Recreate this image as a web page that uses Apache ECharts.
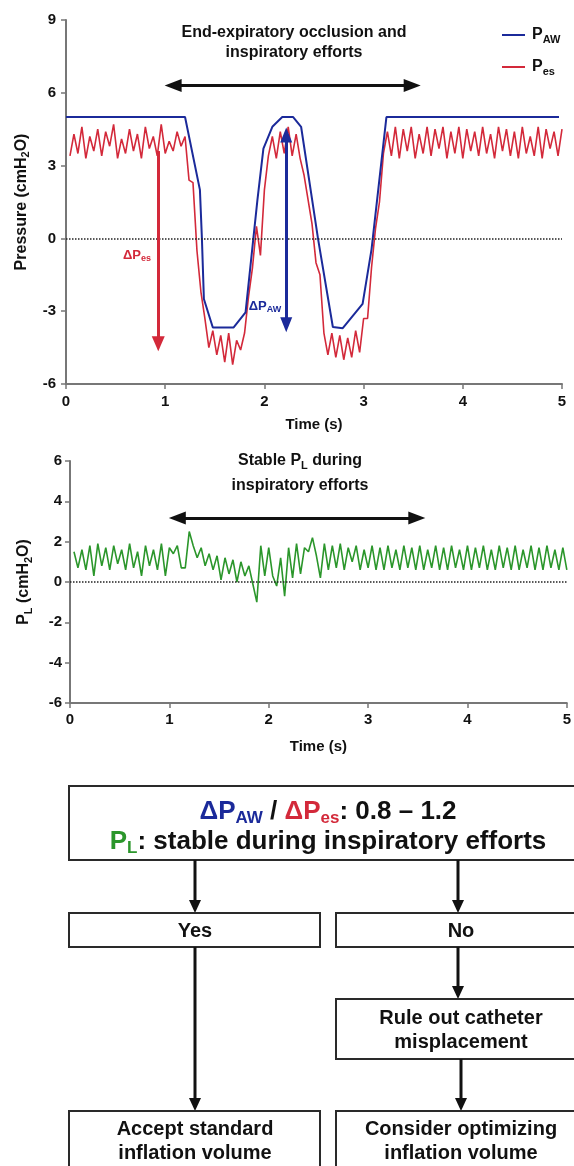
<!DOCTYPE html>
<html><head><meta charset="utf-8">
<script src="https://cdn.jsdelivr.net/npm/echarts@6/dist/echarts.min.js"></script>
<style>html,body{margin:0;padding:0;background:#fff}#c{width:574px;height:1166px}</style>
</head><body><div id="c"></div>
<script>
// ---------- data ----------
const xTicks = [0, 1, 2, 3, 4, 5];
const pressureTicks = [-6, -3, 0, 3, 6, 9];
const plTicks = [-6, -4, -2, 0, 2, 4, 6];
const sampleStart = 0.04, sampleStep = 0.04;   // sampling of Pes and PL traces (s)

const pawTime   = [0, 1.2, 1.35, 1.37, 1.39, 1.48, 1.69, 1.81, 1.93, 1.99, 2.08, 2.18, 2.29, 2.37, 2.54, 2.69, 2.79, 2.99, 3.08, 3.23, 4.97];
const pawValues = [5, 5,   2.0,  0.0, -2.5, -3.67, -3.67, -3.05, 1.6, 3.7, 4.6, 5.0, 5.0, 4.6, 0.0, -3.65, -3.7, -2.7, -0.45, 5.0, 5.0];

const pesValues = [
  3.4,4.3,3.5,4.6,3.3,4.2,3.6,4.5,3.4,4.4, 3.8,4.7,3.3,4.1,3.5,4.5,3.6,4.3,3.3,4.6, 3.7,4.2,3.4,4.7,3.5,4.0,3.6,4.4,3.8,
  4.2,2.4,2.3,-0.5,-2.2,-3.3,-4.5,-3.8,-4.8,-4.0,
  -5.1,-3.9,-5.2,-4.2,-4.6,-3.9,-2.4,-1.2,0.5,-0.7,
  2.0,3.4,4.2,3.3,4.4,3.5,4.6,3.4,4.3,3.3,
  2.6,1.6,0.6,-1.0,-1.5,-3.9,-4.8,-3.9,-4.9,-4.0,
  -5.0,-4.1,-4.9,-3.8,-4.7,-3.3,-3.3,-1.2,0.4,1.5,
  3.5,4.4,
  3.4,4.6,3.3,4.5,3.6,4.6,3.3,4.3,3.5,4.6, 3.4,4.5,3.7,4.6,3.3,4.4,3.5,4.6,3.3,4.5,
  3.6,4.4,3.4,4.6,3.5,4.3,3.3,4.6,3.6,4.5, 3.4,4.4,3.3,4.6,3.5,4.2,3.4,4.6,3.3,4.5, 3.7,4.4,3.4,4.5
];

const plValues = [
  1.5,0.7,1.6,0.6,1.8,0.3,1.9,0.8,1.7,0.6, 1.8,0.9,1.6,0.6,1.9,0.7,1.5,0.3,1.8,0.8, 1.6,0.6,1.9,0.3,1.7,1.4,1.8,0.7,0.7,
  2.5,1.8,1.2,1.7,0.8,1.4,0.6,1.3,0.1,1.2, 0.4,1.1,0.0,1.0,0.3,0.8,-0.1,-1.0,1.8,0.3,
  1.7,0.3,-0.2,1.2,-0.7,1.7,0.2,1.9,0.4,1.7, 1.5,2.2,1.3,0.2,
  1.9,0.6,1.8,0.7,1.9,0.6,1.7,1.0,1.8,0.6, 1.6,0.7,1.8,0.6,1.7,0.6,1.8,0.7,1.6,0.6,
  1.8,0.7,1.7,0.6,1.8,0.6,1.6,0.7,1.8,0.6, 1.7,0.6,1.8,0.7,1.6,0.6,1.8,0.6,1.7,0.7,
  1.8,0.6,1.6,0.6,1.8,0.7,1.7,0.6,1.8,0.6, 1.6,0.7,1.8,0.6,1.7,0.6,1.8,0.7,1.6,0.6, 1.7,0.6
];

// annotation arrows (data units, at the centres of the arrow heads)
const occlusionArrow = { from: 1.08, to: 3.49, level: 6.3 };
const dPesArrow = { t: 0.93, top: 3.6, bottom: -4.34 };
const dPawArrow = { t: 2.22, top: 4.26, bottom: -3.56 };
const stableArrow = { from: 1.08, to: 3.49, level: 3.17 };

// ---------- build ----------
const FONT = '"Liberation Sans", Arial, Helvetica, sans-serif';
const BLUE = '#1b2a9a', RED = '#d3293a', GREEN = '#2b962b', AXIS = '#777777';
const pawData = pawTime.map((t, i) => [t, pawValues[i]]);
const pesData = pesValues.map((v, i) => [+(sampleStart + i * sampleStep).toFixed(3), v]);
const plData = plValues.map((v, i) => [+(sampleStart + i * sampleStep).toFixed(3), v]);

function xAxisCfg(gridIndex, margin, gap) {
  return {
    type: 'value', gridIndex, min: xTicks[0], max: xTicks[xTicks.length - 1], interval: 1,
    name: 'Time (s)', nameLocation: 'middle', nameGap: gap,
    nameTextStyle: { fontFamily: FONT, fontWeight: 'bold', fontSize: 15, color: '#111' },
    axisLine: { show: true, onZero: false, lineStyle: { color: AXIS, width: 2 } },
    axisTick: { show: true, length: 5, lineStyle: { color: AXIS, width: 1.5 } },
    axisLabel: { fontFamily: FONT, fontWeight: 'bold', fontSize: 15, color: '#111', margin },
    splitLine: { show: false }
  };
}
function yAxisCfg(gridIndex, ticks, interval, nameRich, gap, margin) {
  return {
    type: 'value', gridIndex, min: ticks[0], max: ticks[ticks.length - 1], interval,
    name: nameRich, nameLocation: 'middle', nameGap: gap, nameRotate: 90,
    nameTextStyle: {
      fontFamily: FONT, fontWeight: 'bold', fontSize: 16, color: '#111',
      rich: {
        m: { fontFamily: FONT, fontWeight: 'bold', fontSize: 16, color: '#111' },
        s: { fontFamily: FONT, fontWeight: 'bold', fontSize: 11, color: '#111', padding: [9, 0, 0, 0] }
      }
    },
    axisLine: { show: true, onZero: false, lineStyle: { color: AXIS, width: 2 } },
    axisTick: { show: true, length: 5, lineStyle: { color: AXIS, width: 1.5 } },
    axisLabel: { fontFamily: FONT, fontWeight: 'bold', fontSize: 15, color: '#111', margin },
    splitLine: { show: false }
  };
}
function arrowSeries(xi, yi, color, width, a, b, syms, size) {
  return {
    type: 'line', xAxisIndex: xi, yAxisIndex: yi, data: [], silent: true,
    markLine: {
      silent: true, animation: false, symbol: syms, symbolSize: size,
      label: { show: false },
      lineStyle: { color, width, type: 'solid' },
      emphasis: { disabled: true },
      data: [[{ coord: a }, { coord: b }]]
    }
  };
}
const zeroLine = {
  silent: true, animation: false, symbol: 'none', label: { show: false },
  lineStyle: { color: '#222', width: 1.5, type: 'dotted' },
  emphasis: { disabled: true },
  data: [{ yAxis: 0 }]
};

const txt = (x, y, text, rich, extra) => ({
  type: 'text', x, y, silent: true,
  style: Object.assign({
    text, rich, align: 'center', verticalAlign: 'middle',
    fontFamily: FONT, fontWeight: 'bold', fontSize: 16, fill: '#111'
  }, extra || {})
});
const box = (x, y, w, h) => ({
  type: 'rect', silent: true, shape: { x, y, width: w, height: h },
  style: { fill: '#fff', stroke: '#2a2a2a', lineWidth: 2 }
});
const arrowDown = (x, y1, y2) => ([
  { type: 'line', silent: true, shape: { x1: x, y1, x2: x, y2: y2 - 10 }, style: { stroke: '#111', lineWidth: 3 } },
  { type: 'polygon', silent: true, shape: { points: [[x - 6, y2 - 13], [x + 6, y2 - 13], [x, y2]] }, style: { fill: '#111' } }
]);

const subRich = (col, big, small, pad) => ({
  m: { fontFamily: FONT, fontWeight: 'bold', fontSize: big, fill: col },
  s: { fontFamily: FONT, fontWeight: 'bold', fontSize: small, fill: col, padding: [pad, 0, 0, 0] }
});

const FS = 26, FSS = 17, FPAD = 13;
const flowRich = {
  b: { fontFamily: FONT, fontWeight: 'bold', fontSize: FS, fill: BLUE },
  bs: { fontFamily: FONT, fontWeight: 'bold', fontSize: FSS, fill: BLUE, padding: [FPAD, 0, 0, 0] },
  r: { fontFamily: FONT, fontWeight: 'bold', fontSize: FS, fill: RED },
  rs: { fontFamily: FONT, fontWeight: 'bold', fontSize: FSS, fill: RED, padding: [FPAD, 0, 0, 0] },
  g: { fontFamily: FONT, fontWeight: 'bold', fontSize: FS, fill: GREEN },
  gs: { fontFamily: FONT, fontWeight: 'bold', fontSize: FSS, fill: GREEN, padding: [FPAD, 0, 0, 0] },
  k: { fontFamily: FONT, fontWeight: 'bold', fontSize: FS, fill: '#111' }
};

const graphics = [
  txt(294, 43, 'End-expiratory occlusion and\ninspiratory efforts', null, { lineHeight: 20 }),
  txt(137, 255, '{m|ΔP}{s|es}', subRich(RED, 13, 9, 7)),
  txt(265, 306, '{m|ΔP}{s|AW}', subRich(BLUE, 13, 9, 7)),
  txt(300, 461, '{k|Stable P}{s|L}{k| during}', {
    k: { fontFamily: FONT, fontWeight: 'bold', fontSize: 16, fill: '#111' },
    s: { fontFamily: FONT, fontWeight: 'bold', fontSize: 11, fill: '#111', padding: [9, 0, 0, 0] }
  }),
  txt(300, 486, 'inspiratory efforts', null),
  // flowchart
  box(69, 786, 520, 74),
  txt(328, 812, '{b|ΔP}{bs|AW}{k| / }{r|ΔP}{rs|es}{k|: 0.8 – 1.2}', flowRich),
  txt(328, 842, '{g|P}{gs|L}{k|: stable during inspiratory efforts}', flowRich),
  ...arrowDown(195, 860, 913),
  ...arrowDown(458, 860, 913),
  box(69, 913, 251, 34),
  box(336, 913, 250, 34),
  txt(195, 931, 'Yes', null, { fontSize: 20 }),
  txt(461, 931, 'No', null, { fontSize: 20 }),
  ...arrowDown(195, 947, 1111),
  ...arrowDown(458, 947, 999),
  box(336, 999, 250, 60),
  txt(461, 1030, 'Rule out catheter\nmisplacement', null, { fontSize: 20, lineHeight: 24 }),
  ...arrowDown(461, 1059, 1111),
  box(69, 1111, 251, 80),
  box(336, 1111, 250, 80),
  txt(195, 1141, 'Accept standard\ninflation volume', null, { fontSize: 20, lineHeight: 24 }),
  txt(461, 1141, 'Consider optimizing\ninflation volume', null, { fontSize: 20, lineHeight: 24 })
];

const option = {
  animation: false,
  backgroundColor: '#fff',
  grid: [
    { left: 66, top: 20, width: 496, height: 364 },
    { left: 70, top: 461, width: 497, height: 242 }
  ],
  xAxis: [xAxisCfg(0, 10, 33), xAxisCfg(1, 9, 36)],
  yAxis: [
    yAxisCfg(0, pressureTicks, 3, '{m|Pressure (cmH}{s|2}{m|O)}', 34, 10),
    yAxisCfg(1, plTicks, 2, '{m|P}{s|L}{m| (cmH}{s|2}{m|O)}', 36, 8)
  ],
  legend: {
    data: ['P_AW', 'P_es'], orient: 'vertical', left: 497, top: 22,
    icon: 'rect', itemWidth: 23, itemHeight: 2, itemGap: 14,
    selectedMode: false,
    formatter: n => n === 'P_AW' ? '{p|P}{s|AW}' : '{p|P}{s|es}',
    textStyle: {
      rich: {
        p: { fontFamily: FONT, fontWeight: 'bold', fontSize: 16, color: '#111', padding: [0, 0, 0, 2] },
        s: { fontFamily: FONT, fontWeight: 'bold', fontSize: 11, color: '#111', padding: [9, 0, 0, 0] }
      }
    }
  },
  series: [
    { name: 'P_es', type: 'line', xAxisIndex: 0, yAxisIndex: 0, data: pesData, showSymbol: false,
      lineStyle: { color: RED, width: 1.6 }, itemStyle: { color: RED }, markLine: zeroLine, z: 2 },
    { name: 'P_AW', type: 'line', xAxisIndex: 0, yAxisIndex: 0, data: pawData, showSymbol: false,
      lineStyle: { color: BLUE, width: 2 }, itemStyle: { color: BLUE }, z: 3 },
    { name: 'P_L', type: 'line', xAxisIndex: 1, yAxisIndex: 1, data: plData, showSymbol: false,
      lineStyle: { color: GREEN, width: 1.6 }, itemStyle: { color: GREEN }, markLine: zeroLine, z: 2 },
    arrowSeries(0, 0, '#111', 3, [occlusionArrow.from, occlusionArrow.level], [occlusionArrow.to, occlusionArrow.level], ['triangle', 'triangle'], [13, 17]),
    arrowSeries(0, 0, RED, 3, [dPesArrow.t, dPesArrow.top], [dPesArrow.t, dPesArrow.bottom], ['none', 'triangle'], [13, 15]),
    arrowSeries(0, 0, BLUE, 3, [dPawArrow.t, dPawArrow.top], [dPawArrow.t, dPawArrow.bottom], ['triangle', 'triangle'], [12, 15]),
    arrowSeries(1, 1, '#111', 3, [stableArrow.from, stableArrow.level], [stableArrow.to, stableArrow.level], ['triangle', 'triangle'], [13, 17])
  ],
  graphic: graphics
};
const chart = echarts.init(document.getElementById('c'), null, { renderer: 'canvas' });
chart.setOption(option);
</script></body></html>
